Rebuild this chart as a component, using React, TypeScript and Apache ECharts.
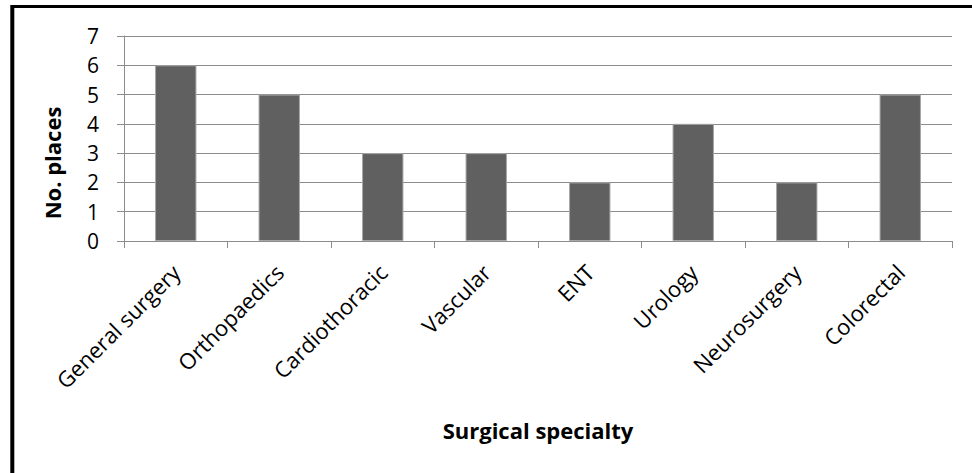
import React, { useEffect, useRef } from "react";
import * as echarts from "echarts";

const categories = [
  "General surgery",
  "Orthopaedics",
  "Cardiothoracic",
  "Vascular",
  "ENT",
  "Urology",
  "Neurosurgery",
  "Colorectal",
];
const places = [6, 5, 3, 3, 2, 4, 2, 5];
const yTicks = { min: 0, max: 7, interval: 1 };
const xTitle = "Surgical specialty";
const yTitle = "No. places";

const FONT = "Open Sans";

export default function App() {
  const ref = useRef<HTMLDivElement>(null);
  useEffect(() => {
    if (!ref.current) return;
    const chart = echarts.init(ref.current, undefined, { renderer: "svg" });
    chart.setOption({
      animation: false,
      backgroundColor: "#ffffff",
      grid: { left: 124, right: 20, top: 36, bottom: 232 },
      xAxis: {
        type: "category",
        data: categories,
        axisLine: { lineStyle: { color: "#8c8c8c", width: 1 } },
        axisTick: { show: true, length: 7, lineStyle: { color: "#8c8c8c" } },
        axisLabel: {
          rotate: 45,
          interval: 0,
          margin: 27,
          fontFamily: FONT,
          fontSize: 22,
          color: "#000",
        },
      },
      yAxis: {
        type: "value",
        min: yTicks.min,
        max: yTicks.max,
        interval: yTicks.interval,
        axisLine: { show: true, lineStyle: { color: "#8c8c8c", width: 1 } },
        axisTick: { show: true, length: 7, lineStyle: { color: "#8c8c8c" } },
        splitLine: { lineStyle: { color: "#8c8c8c", width: 1 } },
        axisLabel: {
          margin: 25,
          fontFamily: FONT,
          fontSize: 21,
          color: "#000",
        },
      },
      series: [
        {
          type: "bar",
          data: places,
          barWidth: "40%",
          itemStyle: { color: "#606060", borderColor: "#a6a6a6", borderWidth: 1 },
        },
      ],
      graphic: [
        {
          type: "line",
          shape: { x1: 12, y1: 6.5, x2: 972, y2: 6.5 },
          style: { stroke: "#000", lineWidth: 3 },
        },
        {
          type: "line",
          shape: { x1: 12.3, y1: 5, x2: 12.3, y2: 473 },
          style: { stroke: "#000", lineWidth: 4 },
        },
        {
          type: "text",
          x: 52,
          y: 163,
          rotation: Math.PI / 2,
          style: {
            text: yTitle,
            fontFamily: FONT,
            fontWeight: "bold",
            fontSize: 22,
            fill: "#000",
            align: "center",
            verticalAlign: "middle",
          },
        },
        {
          type: "text",
          x: 538,
          y: 430,
          style: {
            text: xTitle,
            fontFamily: FONT,
            fontWeight: "bold",
            fontSize: 22,
            fill: "#000",
            align: "center",
            verticalAlign: "middle",
          },
        },
      ],
    });
    return () => chart.dispose();
  }, []);
  return (
    <div
      ref={ref}
      style={{ position: "fixed", left: 0, top: 0, width: 972, height: 473 }}
    />
  );
}
